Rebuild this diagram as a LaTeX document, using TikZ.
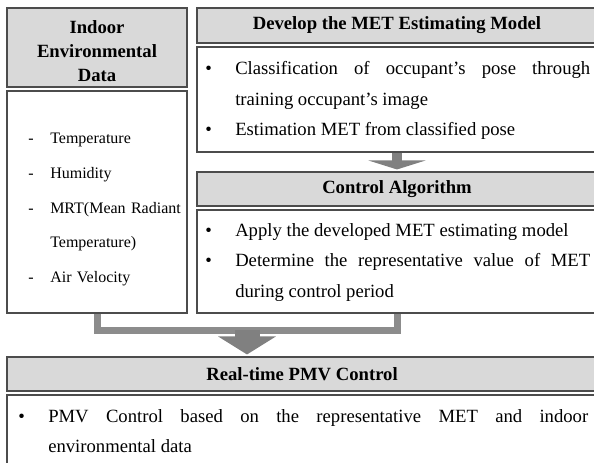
\documentclass[tikz,border=0pt]{standalone}
\usepackage{fontspec}
\setmainfont{Liberation Serif}
\usetikzlibrary{arrows.meta}

\newcommand{\txtsize}{\fontsize{14}{23}\selectfont}
\newcommand{\bul}{\hangindent=22.5pt\hangafter=1\makebox[22.5pt][l]{•}}
\newcommand{\dsh}{\hangindent=16.5pt\hangafter=1\makebox[16.5pt][l]{-}}

\tikzset{
  head/.style={draw=black!70, fill=black!15, line width=0.8pt, inner sep=0pt,
    font=\txtsize\bfseries, align=center},
  body/.style={draw=black!70, fill=white, line width=0.8pt, inner sep=0pt},
  items/.style={inner sep=0pt, anchor=north west, font=\txtsize, align=justify},
  flow/.style={draw=black!45, line width=5.25pt},
  fat/.style={draw=black!50, line width=18.75pt, shorten >=1.5pt,
    -{Triangle[length=13.5pt, width=42.75pt]}},
  thin/.style={draw=black!50, line width=7.5pt, shorten >=1.5pt,
    -{Triangle[length=6.75pt, width=42.75pt]}}
}

\begin{document}
\begin{tikzpicture}[x=0.75pt, y=-0.75pt]
  \useasboundingbox (0,0) rectangle (594,463);
  \clip (0,0) rectangle (594,463);
  % boxes
  \node[head, minimum width=135pt, minimum height=59.25pt] (envhead) at (97,47.5) {};
  \node[align=center, inner sep=0pt, font=\fontsize{14}{18}\selectfont\bfseries] (envtitle)
    at (97,51) {Indoor\\Environmental\\Data};
  \node[body, minimum width=135pt, minimum height=166.5pt] (envbody) at (97,202) {};
  \node[head, minimum width=300pt, minimum height=26.25pt] (devhead) at (397,25.5)
    {Develop the MET Estimating Model};
  \node[body, minimum width=300pt, minimum height=78.75pt] (devbody) at (397,99.5) {};
  \node[head, minimum width=300pt, minimum height=25.5pt] (ctrlhead) at (397,189)
    {Control Algorithm};
  \node[body, minimum width=300pt, minimum height=77.25pt] (ctrlbody) at (397,261.5) {};
  \node[head, minimum width=442.5pt, minimum height=25.5pt] (pmvhead) at (302,374)
    {Real-time PMV Control};
  \node[body, minimum width=442.5pt, minimum height=56.25pt] (pmvbody) at (302,432.5) {};
  % texts
  \node[items, text width=118pt, align=left, font=\fontsize{12}{26}\selectfont] (envlist)
    at (28,133) {\dsh Temperature\par\dsh Humidity\par
      \dsh MRT(Mean Radiant\newline Temperature)\par\dsh Air Velocity\par};
  \node[items, text width=288.75pt] (devlist) at (205,61)
    {\bul Classification of occupant's pose through\linebreak training occupant's image\par
     \bul Estimation MET from classified pose\par};
  \node[items, text width=288.75pt] (ctrllist) at (205,223)
    {\bul Apply the developed MET estimating model\par
     \bul Determine the representative value of MET\linebreak during control period\par};
  \node[items, text width=427.5pt] (pmvlist) at (18,409)
    {\bul PMV Control based on the representative MET and indoor\linebreak environmental data\par};
  % connectors
  \coordinate (merge) at (247,330);
  \draw [flow] (envbody.south) -- ++(0,17) -| (ctrlbody.south);
  \draw [fat] (merge) -- (merge |- pmvhead.north);
  \draw [thin] (devbody.south) -- (ctrlhead.north);
\end{tikzpicture}
\end{document}
